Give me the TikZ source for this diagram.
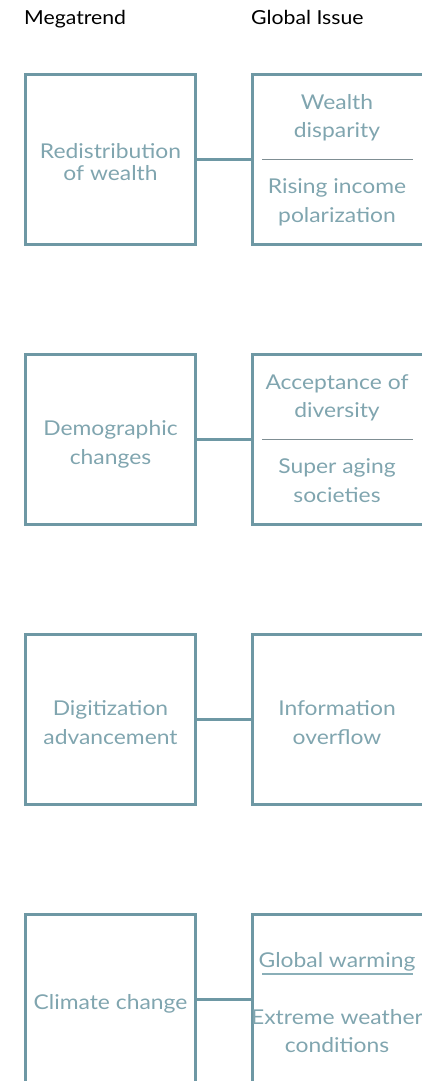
\documentclass[tikz,border=0pt]{standalone}
\usepackage{fontspec}
\setmainfont{Lato}
\newfontfamily\headfont[FakeStretch=1.1]{Lato}
\newfontfamily\cardfont[FakeStretch=1.12]{Lato}
\definecolor{boxline}{HTML}{6E98A4}
\definecolor{boxtext}{HTML}{80A5AF}
\definecolor{rule}{HTML}{7F8E93}
\definecolor{ulink}{HTML}{8AAFB8}
\begin{document}
\begin{tikzpicture}[x=1pt,y=-1pt,
  card/.style={draw=boxline,line width=3pt,minimum width=170pt,minimum height=170pt,anchor=north west,inner sep=0pt,outer sep=0pt},
  wide/.style={card,minimum width=180pt},
  link/.style={draw=boxline,line width=3pt},
  head/.style={font=\headfont\fontsize{19.3}{22}\selectfont,text=black,anchor=base west,inner sep=0pt},
  txt/.style={font=\cardfont\fontsize{20.4}{22}\selectfont,text=boxtext,anchor=base,inner sep=0pt},
  sep/.style={draw=rule,line width=0.8pt},
  under/.style={draw=ulink,line width=1.5pt}]
\useasboundingbox (0,0) rectangle (421,1081);

% column headings
\node[head] (hmega) at (24,25) {Megatrend};
\node[head] (hissue) at (251,25) {Global Issue};

% row 1
\node[card] (m1) at (25.5,74.5) {};
\node[wide] (g1) at (252,74.5) {};
\draw[link] (m1.east) -- (g1.west);
\node[txt] (m1a) at (110.5,158) {Redistribution};
\node[txt] (m1b) at (110.5,180) {of wealth};
\node[txt] (g1a) at (337,109) {Wealth};
\node[txt] (g1b) at (337,137) {disparity};
\coordinate (s1l) at (262,159.5);
\coordinate (s1r) at (413,159.5);
\draw[sep] (s1l) -- (s1r);
\node[txt] (g1c) at (337,193) {Rising income};
\node[txt] (g1d) at (337,222) {polarization};

% row 2
\node[card] (m2) at (25.5,354.5) {};
\node[wide] (g2) at (252,354.5) {};
\draw[link] (m2.east) -- (g2.west);
\node[txt] (m2a) at (110.5,435) {Demographic};
\node[txt] (m2b) at (110.5,464) {changes};
\node[txt] (g2a) at (337,389) {Acceptance of};
\node[txt] (g2b) at (337,417) {diversity};
\coordinate (s2l) at (262,439.5);
\coordinate (s2r) at (413,439.5);
\draw[sep] (s2l) -- (s2r);
\node[txt] (g2c) at (337,473) {Super aging};
\node[txt] (g2d) at (337,502) {societies};

% row 3
\node[card] (m3) at (25.5,634.5) {};
\node[wide] (g3) at (252,634.5) {};
\draw[link] (m3.east) -- (g3.west);
\node[txt] (m3a) at (110.5,715) {Digitization};
\node[txt] (m3b) at (110.5,744) {advancement};
\node[txt] (g3a) at (337,715) {Information};
\node[txt] (g3b) at (337,744) {overflow};

% row 4
\node[card] (m4) at (25.5,914.5) {};
\node[wide] (g4) at (252,914.5) {};
\draw[link] (m4.east) -- (g4.west);
\node[txt] (m4a) at (110.5,1009) {Climate change};
\node[txt] (g4a) at (337,967) {Global warming};
\coordinate (u4l) at (262,974);
\coordinate (u4r) at (413,974);
\draw[under] (u4l) -- (u4r);
\node[txt] (g4b) at (337,1024) {Extreme weather};
\node[txt] (g4c) at (337,1052) {conditions};
\end{tikzpicture}
\end{document}
